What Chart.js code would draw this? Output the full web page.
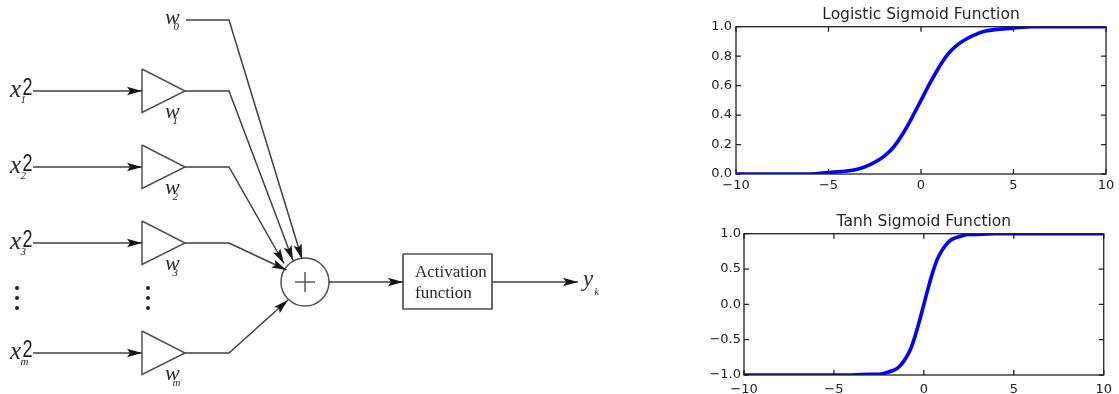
<!DOCTYPE html>
<html>
<head>
<meta charset="utf-8">
<script src="https://cdn.jsdelivr.net/npm/chart.js@4.4.1/dist/chart.umd.min.js"></script>
<style>
  html, body { margin: 0; padding: 0; background: #fff; overflow: hidden; width: 1119px; height: 394px; }
  .panel { position: absolute; }
</style>
</head>
<body>
<div class="panel" style="left:0;top:0;width:690px;height:394px"><canvas id="neuron"></canvas></div>
<div class="panel" style="left:690px;top:0;width:429px;height:196px"><canvas id="logistic"></canvas></div>
<div class="panel" style="left:690px;top:200px;width:429px;height:200px"><canvas id="tanh"></canvas></div>
<script>
// ---- Activation curves (sampled points) ----
const sigX = [-10, -8, -6, -5, -4, -3.5, -3, -2.5, -2, -1.5, -1, -0.5, 0, 0.5, 1, 1.5, 2, 2.5, 3, 3.5, 4, 5, 6, 8, 10];
const sigY = [0.00, 0.00, 0.00, 0.01, 0.02, 0.03, 0.05, 0.08, 0.12, 0.18, 0.27, 0.38, 0.50, 0.62, 0.73, 0.82, 0.88, 0.92, 0.95, 0.97, 0.98, 0.99, 1.00, 1.00, 1.00];

const tanhX = [-10, -8, -6, -4, -3, -2.5, -2, -1.75, -1.5, -1.25, -1, -0.75, -0.5, -0.25, 0, 0.25, 0.5, 0.75, 1, 1.25, 1.5, 1.75, 2, 2.5, 3, 4, 6, 8, 10];
const tanhY = [-1.00, -1.00, -1.00, -1.00, -0.99, -0.99, -0.96, -0.94, -0.91, -0.85, -0.76, -0.64, -0.46, -0.24, 0.00, 0.24, 0.46, 0.64, 0.76, 0.85, 0.91, 0.94, 0.96, 0.99, 0.99, 1.00, 1.00, 1.00, 1.00];

const xTicks = [-10, -5, 0, 5, 10];
const sigTicks = [0, 0.2, 0.4, 0.6, 0.8, 1.0];
const tanhTicks = [-1, -0.5, 0, 0.5, 1];

// ---- Neuron diagram: inputs and labels ----
const inputIndex = ['1', '2', '3', 'm'];
const inputRowY = [91, 167, 243, 353];
const biasIndex = '0';
const biasRowY = 20;
const boxLines = ['Activation', 'function'];
const outputName = 'y';
const outputIndex = 'k';

// Diagram layout (diagram units = canvas pixels)
const L = {
  inStart: 33, triLeft: 142, triTip: 185, triUp: 22, triDown: 21.5, bend: 229, biasStart: 186,
  sum: { x: 305, y: 282, r: 24, plus: 10 },
  biasTip: [302, 259],
  rowTips: [[293, 260.5], [284, 263.5], [286.5, 270], [288, 300]],
  box: { l: 403, t: 254, r: 492, b: 309 },
  outTip: 578,
  dotsX: [17, 148], dotsY: [288, 298, 308]
};

const LINE = '#404040';
const SHAPE = '#505050';
const TEXT = '#2a2a2a';

function seg(points, opts = {}) {
  return Object.assign({
    type: 'scatter', showLine: true, tension: 0, fill: false, order: 0,
    data: points.map(p => ({ x: p[0], y: p[1] })),
    borderColor: LINE, borderWidth: 1.5, pointRadius: 0, pointHoverRadius: 0
  }, opts);
}

const neuronSets = [];
// summing junction (drawn underneath everything else)
neuronSets.push({
  type: 'scatter', order: 10, data: [{ x: L.sum.x, y: L.sum.y }],
  pointStyle: 'circle', pointRadius: L.sum.r, pointHoverRadius: L.sum.r,
  backgroundColor: '#fff', borderColor: SHAPE, borderWidth: 1.5
});
neuronSets.push(seg([[L.biasStart, biasRowY], [L.bend, biasRowY], L.biasTip], { arrowHead: true }));
inputRowY.forEach((y, i) => {
  neuronSets.push(seg([[L.inStart, y], [L.triLeft, y]], { arrowHead: true }));
  neuronSets.push(seg([[L.triLeft, y - L.triUp], [L.triTip, y], [L.triLeft, y + L.triDown], [L.triLeft, y - L.triUp]],
    { borderColor: SHAPE, borderWidth: 1.5 }));
  neuronSets.push(seg([[L.triTip, y], [L.bend, y], L.rowTips[i]], { arrowHead: true }));
});
neuronSets.push(seg([[L.sum.x - L.sum.plus, L.sum.y], [L.sum.x + L.sum.plus, L.sum.y]], { borderColor: SHAPE, borderWidth: 1.4 }));
neuronSets.push(seg([[L.sum.x, L.sum.y - L.sum.plus], [L.sum.x, L.sum.y + L.sum.plus]], { borderColor: SHAPE, borderWidth: 1.4 }));
neuronSets.push(seg([[L.sum.x + L.sum.r, L.sum.y], [L.box.l, L.sum.y]], { arrowHead: true }));
// activation box
neuronSets.push(seg([[L.box.l, L.box.t], [L.box.r, L.box.t], [L.box.r, L.box.b], [L.box.l, L.box.b], [L.box.l, L.box.t]],
  { borderColor: SHAPE, borderWidth: 1.7 }));
neuronSets.push(seg([[L.box.r, L.sum.y], [L.outTip, L.sum.y]], { arrowHead: true }));
// vertical ellipsis dots
const dotPts = [];
L.dotsX.forEach(x => L.dotsY.forEach(y => dotPts.push({ x, y })));
neuronSets.push({ type: 'scatter', order: 0, data: dotPts, pointRadius: 2, pointHoverRadius: 2, backgroundColor: '#222', borderWidth: 0 });

// text items in diagram units
const SERIF = '"Liberation Serif", "DejaVu Serif", serif';
const neuronText = [];
inputRowY.forEach((y, i) => {
  neuronText.push({ t: 'x', x: 10, y: y + 6, font: `italic 25px ${SERIF}`, c: TEXT });
  neuronText.push({ t: inputIndex[i], x: 20.5, y: y + 12, font: `italic 11px ${SERIF}`, c: TEXT });
  neuronText.push({ t: '2', x: 22.5, y: y + 4, font: '24px "Liberation Sans", Arial, sans-serif', c: '#1a1a1a', sx: 0.75 });
  neuronText.push({ t: 'w', x: 165, y: y + 27, font: `italic 22px ${SERIF}`, c: TEXT });
  neuronText.push({ t: inputIndex[i], x: 172.5, y: y + 33, font: `italic 11px ${SERIF}`, c: TEXT });
});
neuronText.push({ t: 'w', x: 165, y: biasRowY + 4, font: `italic 22px ${SERIF}`, c: TEXT });
neuronText.push({ t: biasIndex, x: 173.5, y: biasRowY + 10, font: `italic 11px ${SERIF}`, c: TEXT });
neuronText.push({ t: boxLines[0], x: 415, y: 277, font: `17px ${SERIF}`, c: TEXT });
neuronText.push({ t: boxLines[1], x: 415, y: 298, font: `17px ${SERIF}`, c: TEXT });
neuronText.push({ t: outputName, x: 583, y: 286, font: `italic 23px ${SERIF}`, c: TEXT });
neuronText.push({ t: outputIndex, x: 594.5, y: 295, font: `italic 10px ${SERIF}`, c: TEXT });

const arrowPlugin = {
  id: 'arrowHeads',
  afterDatasetsDraw(chart) {
    const ctx = chart.ctx;
    chart.data.datasets.forEach((ds, i) => {
      if (!ds.arrowHead) return;
      const pts = chart.getDatasetMeta(i).data;
      const a = pts[pts.length - 2], b = pts[pts.length - 1];
      const ang = Math.atan2(b.y - a.y, b.x - a.x);
      const len = 15, half = 4.2;
      const c = Math.cos(ang), s = Math.sin(ang);
      const bx = b.x - len * c, by = b.y - len * s;
      const nx = -s * half, ny = c * half;
      ctx.save();
      ctx.fillStyle = '#161616';
      ctx.beginPath();
      ctx.moveTo(b.x, b.y);
      ctx.lineTo(bx + nx, by + ny);
      ctx.lineTo(bx + 0.2 * len * c, by + 0.2 * len * s);
      ctx.lineTo(bx - nx, by - ny);
      ctx.closePath();
      ctx.fill();
      ctx.restore();
    });
  }
};

const textPlugin = {
  id: 'diagramText',
  afterDraw(chart) {
    const ctx = chart.ctx, sx = chart.scales.x, sy = chart.scales.y;
    neuronText.forEach(it => {
      ctx.save();
      ctx.textAlign = 'left';
      ctx.textBaseline = 'alphabetic';
      ctx.font = it.font;
      ctx.fillStyle = it.c;
      ctx.translate(sx.getPixelForValue(it.x), sy.getPixelForValue(it.y));
      if (it.sx) ctx.scale(it.sx, 1);
      ctx.fillText(it.t, 0, 0);
      ctx.restore();
    });
  }
};

new Chart(document.getElementById('neuron'), {
  type: 'scatter',
  data: { datasets: neuronSets },
  options: {
    responsive: true, maintainAspectRatio: false, animation: false,
    layout: { padding: 0, autoPadding: false },
    plugins: { legend: { display: false }, tooltip: { enabled: false } },
    events: [],
    scales: {
      x: { type: 'linear', min: 0, max: 690, display: false },
      y: { type: 'linear', min: 0, max: 394, reverse: true, display: false }
    }
  },
  plugins: [arrowPlugin, textPlugin]
});

// ---- Sigmoid panels ----
const minus = s => String(s).replace('-', '\u2212');

const framePlugin = {
  id: 'axesFrame',
  afterDatasetsDraw(chart) {
    const { ctx, chartArea: a, scales: { x, y } } = chart;
    ctx.save();
    ctx.strokeStyle = '#222';
    ctx.lineWidth = 1.3;
    ctx.strokeRect(a.left, a.top, a.right - a.left, a.bottom - a.top);
    ctx.beginPath();
    const len = 5;
    x.ticks.forEach(t => {
      const px = x.getPixelForValue(t.value);
      ctx.moveTo(px, a.bottom); ctx.lineTo(px, a.bottom - len);
      ctx.moveTo(px, a.top); ctx.lineTo(px, a.top + len);
    });
    y.ticks.forEach(t => {
      const py = y.getPixelForValue(t.value);
      ctx.moveTo(a.left, py); ctx.lineTo(a.left + len, py);
      ctx.moveTo(a.right, py); ctx.lineTo(a.right - len, py);
    });
    ctx.stroke();
    ctx.restore();
  }
};

const TICKFONT = { family: '"DejaVu Sans", sans-serif', size: 13 };

function sigmoidPanel(id, title, xs, ys, yTicks, yMin, yMax, cfg) {
  new Chart(document.getElementById(id), {
    type: 'line',
    data: {
      datasets: [{
        data: xs.map((x, i) => ({ x, y: ys[i] })),
        borderColor: '#0000ff', borderWidth: 3.6, pointRadius: 0,
        cubicInterpolationMode: 'monotone', fill: false, clip: 0
      }]
    },
    options: {
      responsive: true, maintainAspectRatio: false, animation: false,
      events: [],
      layout: { padding: { left: 0, right: 13, top: 0, bottom: 0 }, autoPadding: false },
      plugins: {
        legend: { display: false }, tooltip: { enabled: false },
        title: {
          display: true, text: title, color: '#262626', fullSize: false,
          font: { family: '"DejaVu Sans", sans-serif', size: 15.5, weight: 'normal' },
          padding: cfg.titlePad
        }
      },
      scales: {
        x: {
          type: 'linear', min: -10, max: 10,
          afterBuildTicks: s => { s.ticks = xTicks.map(v => ({ value: v })); },
          afterFit: s => { s.height = cfg.xHeight; },
          ticks: { callback: v => minus(v), color: '#222', font: TICKFONT, padding: cfg.xPad, maxRotation: 0, autoSkip: false },
          grid: { display: false, drawTicks: false }, border: { display: false }
        },
        y: {
          type: 'linear', min: yMin, max: yMax,
          afterBuildTicks: s => { s.ticks = yTicks.map(v => ({ value: v })); },
          afterFit: s => { s.width = cfg.yWidth; },
          ticks: { callback: v => minus(Number(v).toFixed(1)), color: '#222', font: TICKFONT, padding: cfg.yPad, autoSkip: false },
          grid: { display: false, drawTicks: false }, border: { display: false }
        }
      }
    },
    plugins: [framePlugin]
  });
}

sigmoidPanel('logistic', 'Logistic Sigmoid Function', sigX, sigY, sigTicks, 0, 1,
  { titlePad: { top: 5.7, bottom: 2.4 }, xHeight: 22, xPad: 4, yWidth: 46, yPad: 4 });
sigmoidPanel('tanh', 'Tanh Sigmoid Function', tanhX, tanhY, tanhTicks, -1, 1,
  { titlePad: { top: 12.4, bottom: 2.7 }, xHeight: 25, xPad: 7, yWidth: 54, yPad: 3 });
</script>
</body>
</html>
